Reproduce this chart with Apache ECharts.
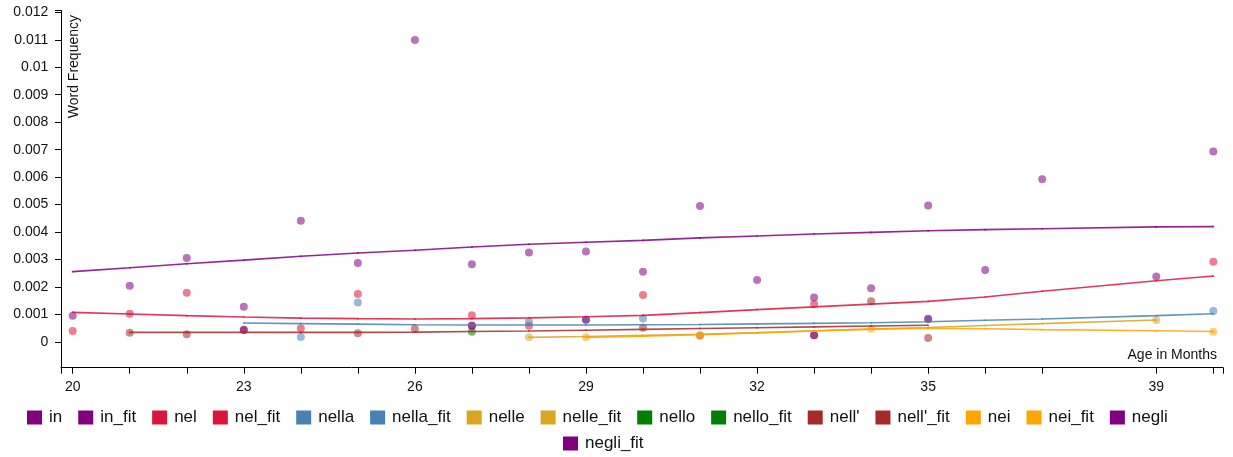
<!DOCTYPE html>
<html>
<head>
<meta charset="utf-8">
<script src="https://cdn.jsdelivr.net/npm/echarts@6/dist/echarts.min.js"></script>
<style>
  html, body { margin: 0; padding: 0; background: #fff; }
  #chart { width: 1233px; height: 457px; }
</style>
</head>
<body>
<div id="chart"></div>
<script>
// ---- observed word frequencies by age (months) ----
const inMonths = [20, 21, 22, 23, 24, 25, 26, 27, 28, 29, 30, 31, 32, 33, 34, 35, 36, 37, 39, 40];
const inValues = [0.00096, 0.00205, 0.00306, 0.00128, 0.00441, 0.00288, 0.01099, 0.00283, 0.00326, 0.00329,
                  0.00256, 0.00495, 0.00226, 0.00162, 0.00196, 0.00497, 0.00262, 0.00592, 0.00238, 0.00693];

const nelMonths = [20, 21, 22, 24, 25, 27, 28, 30, 33, 40];
const nelValues = [0.0004, 0.00103, 0.00179, 0.0005, 0.00175, 0.00097, 0.00059, 0.00171, 0.00138, 0.00292];

const nellaMonths = [24, 25, 28, 29, 30, 35, 40];
const nellaValues = [0.00018, 0.00144, 0.00074, 0.00081, 0.00086, 0.00084, 0.00113];

const nelleMonths = [28, 39];
const nelleValues = [0.00017, 0.0008];

const nelloMonths = [27];
const nelloValues = [0.00037];

const nellMonths = [21, 22, 23, 25, 26, 27, 30, 31, 33, 34, 35];
const nellValues = [0.00034, 0.00028, 0.00044, 0.00032, 0.00048, 0.00059, 0.00052, 0.00024, 0.00025, 0.00148, 0.00015];

const neiMonths = [29, 31, 34, 40];
const neiValues = [0.00017, 0.00024, 0.00048, 0.00037];

const negliMonths = [23, 27, 29, 33, 35];
const negliValues = [0.00045, 0.00059, 0.00081, 0.00025, 0.00084];

// ---- fitted trend curves ----
const inFitMonths = [20, 21, 22, 23, 24, 25, 26, 27, 28, 29, 30, 31, 32, 33, 34, 35, 36, 37, 39, 40];
const inFitValues = [0.00256, 0.0027, 0.00285, 0.00298, 0.00312, 0.00324, 0.00334, 0.00346, 0.00356, 0.00363,
                     0.0037, 0.00379, 0.00386, 0.00393, 0.00399, 0.00405, 0.00409, 0.00412, 0.00419, 0.0042];

const nelFitMonths = [20, 21, 22, 23, 24, 25, 26, 27, 28, 29, 30, 31, 32, 33, 34, 35, 36, 37, 39, 40];
const nelFitValues = [0.00108, 0.00102, 0.00096, 0.00091, 0.00087, 0.00085, 0.00084, 0.00085, 0.00088, 0.00092,
                      0.00097, 0.00107, 0.00118, 0.00128, 0.00138, 0.00148, 0.00164, 0.00185, 0.00223, 0.0024];

const nellaFitMonths = [23, 24, 25, 26, 27, 28, 29, 30, 31, 32, 33, 34, 35, 36, 37, 39, 40];
const nellaFitValues = [0.00069, 0.00067, 0.00065, 0.00063, 0.00062, 0.00062, 0.00062, 0.00063, 0.00064, 0.00066,
                        0.00068, 0.0007, 0.00074, 0.00079, 0.00084, 0.00096, 0.00103];

const nelleFitMonths = [28, 29, 30, 31, 32, 33, 34, 35, 36, 37, 39];
const nelleFitValues = [0.00017, 0.0002, 0.00024, 0.00028, 0.00034, 0.00041, 0.00047, 0.00053, 0.0006, 0.00067, 0.0008];

const nelloFitMonths = [];
const nelloFitValues = [];

const nellFitMonths = [21, 22, 23, 24, 25, 26, 27, 28, 29, 30, 31, 32, 33, 34, 35];
const nellFitValues = [0.00035, 0.00035, 0.00035, 0.00035, 0.00035, 0.00036, 0.00038, 0.0004, 0.00043, 0.00046,
                       0.00049, 0.00052, 0.00055, 0.00058, 0.00061];

const neiFitMonths = [29, 30, 31, 32, 33, 34, 35, 36, 37, 39, 40];
const neiFitValues = [0.00017, 0.00021, 0.00027, 0.00033, 0.0004, 0.00047, 0.0005, 0.00048, 0.00045, 0.00041, 0.00038];

const negliFitMonths = [];
const negliFitValues = [];

// ---- axis ticks ----
const xTickValues = [20, 21, 22, 23, 24, 25, 26, 27, 28, 29, 30, 31, 32, 33, 34, 35, 36, 37, 39, 40];
const xLabelValues = [20, 23, 26, 29, 32, 35, 39];
const yTickValues = [0, 0.001, 0.002, 0.003, 0.004, 0.005, 0.006, 0.007, 0.008, 0.009, 0.01, 0.011, 0.012];

// ---- styling ----
const FONT = '"Liberation Sans", Arial, Helvetica, sans-serif';
const X_MIN = 19.795, X_MAX = 40.17;
const Y_MIN = -0.000935, Y_MAX = 0.0120655;

const C = {
  purple: '#800080', crimson: '#dc143c', steel: '#4682b4', gold: '#daa520',
  green: '#008000', brown: '#a52a2a', orange: '#ffa500'
};

function pairs(xs, ys) { return xs.map((x, i) => [x, ys[i]]); }

function pointSeries(name, xs, ys, color) {
  return {
    name, type: 'scatter', data: pairs(xs, ys),
    symbol: 'circle', symbolSize: 8,
    itemStyle: { color, opacity: 0.55 },
    emphasis: { disabled: true }, silent: true
  };
}

function fitSeries(name, xs, ys, color) {
  return {
    name, type: 'line', data: pairs(xs, ys),
    showSymbol: true, symbol: 'circle', symbolSize: 2,
    itemStyle: { color, opacity: 0.7 },
    lineStyle: { color, width: 1.6, opacity: 0.85 },
    emphasis: { disabled: true }, silent: true
  };
}

const series = [
  pointSeries('in', inMonths, inValues, C.purple),
  fitSeries('in_fit', inFitMonths, inFitValues, C.purple),
  pointSeries('nel', nelMonths, nelValues, C.crimson),
  fitSeries('nel_fit', nelFitMonths, nelFitValues, C.crimson),
  pointSeries('nella', nellaMonths, nellaValues, C.steel),
  fitSeries('nella_fit', nellaFitMonths, nellaFitValues, C.steel),
  pointSeries('nelle', nelleMonths, nelleValues, C.gold),
  fitSeries('nelle_fit', nelleFitMonths, nelleFitValues, C.gold),
  pointSeries('nello', nelloMonths, nelloValues, C.green),
  fitSeries('nello_fit', nelloFitMonths, nelloFitValues, C.green),
  pointSeries("nell'", nellMonths, nellValues, C.brown),
  fitSeries("nell'_fit", nellFitMonths, nellFitValues, C.brown),
  pointSeries('nei', neiMonths, neiValues, C.orange),
  fitSeries('nei_fit', neiFitMonths, neiFitValues, C.orange),
  pointSeries('negli', negliMonths, negliValues, C.purple),
  fitSeries('negli_fit', negliFitMonths, negliFitValues, C.purple)
];

const names = series.map(s => s.name);

const legendBase = {
  orient: 'horizontal', icon: 'rect', itemWidth: 15, itemHeight: 14, itemGap: 16, padding: 0,
  itemStyle: { opacity: 1 }, selectedMode: false,
  textStyle: { fontFamily: FONT, fontSize: 17, color: '#111', padding: [0, 0, 0, 2] }
};

const axisText = { fontFamily: FONT, fontSize: 14, color: '#111' };

const option = {
  animation: false,
  backgroundColor: '#fff',
  grid: { left: 61, right: 10, top: 10.5, bottom: 89.3, containLabel: false },
  legend: [
    Object.assign({}, legendBase, { data: names.slice(0, 15), left: 27, top: 409, width: 1200 }),
    Object.assign({}, legendBase, { data: names.slice(15), left: 563, top: 435 })
  ],
  xAxis: {
    type: 'value', min: X_MIN, max: X_MAX,
    name: 'Age in Months', nameLocation: 'end', nameGap: -6,
    nameTextStyle: Object.assign({}, axisText, { align: 'right', verticalAlign: 'bottom', padding: [0, 0, 6, 0] }),
    axisLine: { show: true, onZero: false, lineStyle: { color: '#000', width: 1 } },
    axisTick: { show: true, length: 6, inside: false, customValues: [X_MIN].concat(xTickValues, [X_MAX]),
                lineStyle: { color: '#000', width: 1 } },
    axisLabel: { show: true, margin: 12, customValues: xLabelValues, formatter: v => String(v),
                 fontFamily: FONT, fontSize: 14, color: '#111' },
    splitLine: { show: false }
  },
  yAxis: {
    type: 'value', min: Y_MIN, max: Y_MAX,
    name: 'Word Frequency', nameLocation: 'end', nameGap: -4.5, nameRotate: 90,
    nameTextStyle: Object.assign({}, axisText, { align: 'right', verticalAlign: 'top', padding: [6, 0, 0, 0] }),
    axisLine: { show: true, onZero: false, lineStyle: { color: '#000', width: 1 } },
    axisTick: { show: true, length: 6, inside: false, customValues: yTickValues.concat([Y_MAX]),
                lineStyle: { color: '#000', width: 1 } },
    axisLabel: { show: true, margin: 12.7, customValues: yTickValues,
                 formatter: v => String(+(+v).toFixed(3)),
                 fontFamily: FONT, fontSize: 14, color: '#111' },
    splitLine: { show: false }
  },
  series
};

const chart = echarts.init(document.getElementById('chart'), null, { renderer: 'canvas' });
chart.setOption(option);
</script>
</body>
</html>
